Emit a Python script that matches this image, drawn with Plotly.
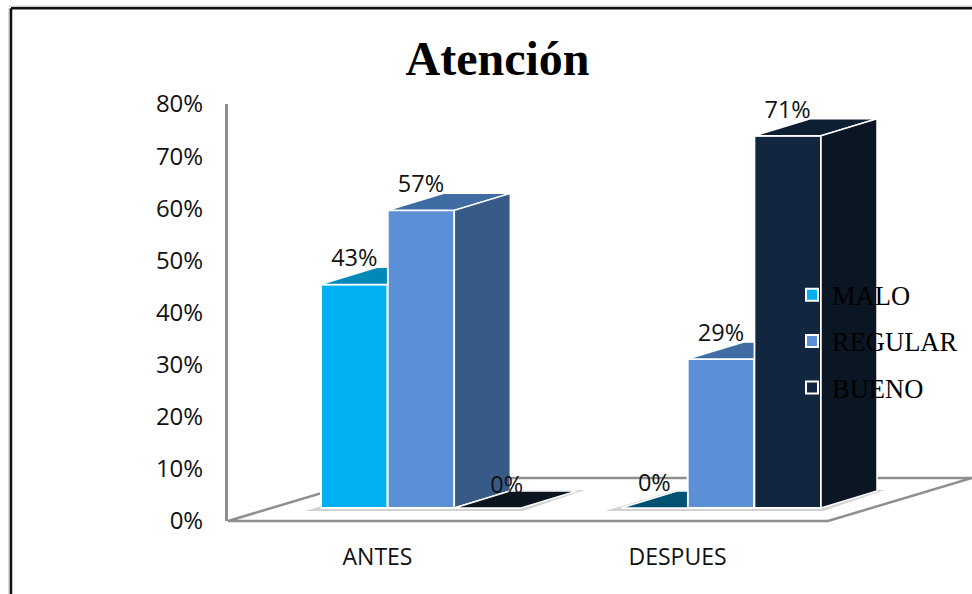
import plotly.graph_objects as go

# ---- data ----
categories = ["ANTES", "DESPUES"]
series_names = ["MALO", "REGULAR", "BUENO"]
malo = [42.9, 0.0]
regular = [57.1, 28.6]
bueno = [0.0, 71.4]
y_ticks = [0, 10, 20, 30, 40, 50, 60, 70, 80]
title_text = "Atención"

# ---- style ----
front_colors = ["#00B0F0", "#5B8FD6", "#12263F"]
top_colors = ["#0088B8", "#3F6CA3", "#0E1E33"]
side_colors = ["#0A6C93", "#375A87", "#0B1624"]
zero_top_colors = ["#005272", "#3F6CA3", "#0A1520"]
label_px_shift = {(2, 0): (19, -3), (0, 1): (0, -1)}
GRAY = "#8F8F8F"
W, H = 972, 594
LEFT, BOTTOM_PX, TOP_PX = 228, 521, 104.2
PX_PER_X = 300.0
PX_PER_Y = (BOTTOM_PX - TOP_PX) / 80.0
X_MIN = (LEFT - 421) / PX_PER_X
X_MAX = (W - 421) / PX_PER_X

px = lambda n: n / PX_PER_X
py = lambda n: n / PX_PER_Y
BAR_W = 2 / 9
BASE = py(13)
DX, DY = px(56), py(17)
FLOOR_DX, FLOOR_DY = px(144), py(43)
paper_x = lambda x: (x - X_MIN) / (X_MAX - X_MIN)
paper_y = lambda y: y / 80.0
paper_from_px_x = lambda p: (p - LEFT) / (W - LEFT)
paper_from_px_y = lambda p: (BOTTOM_PX - p) / (BOTTOM_PX - TOP_PX)


def poly(points, fill, line, width, layer="below"):
    d = "M " + " L ".join(f"{paper_x(a):.5f},{paper_y(b):.5f}" for a, b in points) + " Z"
    return dict(type="path", xref="paper", yref="paper", path=d, fillcolor=fill,
                line=dict(color=line, width=width), layer=layer)


fig = go.Figure()
values = [malo, regular, bueno]
xs = list(range(len(categories)))

# front faces: real bars, also feed the legend
for s, name in enumerate(series_names):
    fig.add_trace(go.Bar(
        x=xs, y=values[s], base=BASE, name=name, legendgroup=name,
        marker=dict(color=front_colors[s], line=dict(color="white", width=2)),
        hoverinfo="skip",
    ))

# top and side faces, derived from the values
for c in xs:
    for s in range(len(series_names)):
        v = values[s][c]
        xl = c + (s - 1.5) * BAR_W
        xr = xl + BAR_W
        top_y = BASE + v
        nxt = values[s + 1][c] if s + 1 < len(series_names) else -1
        hidden = nxt > v
        xclip = xr if hidden else xr + DX
        back_l = xl + DX
        if hidden:
            tx = [xl, min(back_l, xclip), xclip, xclip, xl]
            ty = [top_y, top_y + DY, top_y + DY, top_y, top_y]
        else:
            tx = [xl, back_l, xr + DX, xr, xl]
            ty = [top_y, top_y + DY, top_y + DY, top_y, top_y]
        fig.add_trace(go.Scatter(
            x=tx, y=ty, mode="lines", fill="toself",
            fillcolor=top_colors[s] if v > 0 else zero_top_colors[s],
            line=dict(color="white", width=1.5),
            showlegend=False, hoverinfo="skip", cliponaxis=False))
        if not hidden and v > 0:
            fig.add_trace(go.Scatter(
                x=[xr, xr + DX, xr + DX, xr, xr],
                y=[BASE, BASE + DY, top_y + DY, top_y, BASE],
                mode="lines", fill="toself", fillcolor=side_colors[s],
                line=dict(color="white", width=1.5),
                showlegend=False, hoverinfo="skip", cliponaxis=False))

# value labels
for s in range(len(series_names)):
    shifts = [label_px_shift.get((s, c), (0, 0)) for c in xs]
    lx = [c + (s - 1) * BAR_W + px(shifts[c][0]) for c in xs]
    ly = [BASE + values[s][c] + py(24 + shifts[c][1]) for c in xs]
    fig.add_trace(go.Scatter(
        x=lx, y=ly, mode="text", text=[f"{v:.0f}%" for v in values[s]],
        textposition="middle center",
        textfont=dict(family="Open Sans", size=23.5, color="#111111"),
        showlegend=False, hoverinfo="skip", cliponaxis=False))

# floor and base shadows
shapes = [poly([(X_MIN, 0), (X_MIN + len(xs), 0),
                (X_MIN + len(xs) + FLOOR_DX, FLOOR_DY), (X_MIN + FLOOR_DX, FLOOR_DY)],
               "white", GRAY, 2.5)]
for c in xs:
    xl = c - 1.5 * BAR_W
    xr = c + 1.5 * BAR_W
    shapes.append(poly([(xl - px(16), BASE - py(3)), (xr + px(2), BASE - py(3)),
                        (xr + DX + px(8), BASE + DY + py(1)), (xl + DX, BASE + DY + py(1))],
                       "#D2D2D2", "#D2D2D2", 0))

# outer chart frame
for col, off, wid in [("#CFCFCF", -2, 1.5), ("#111111", 0, 2.5)]:
    shapes.append(dict(type="line", xref="paper", yref="paper",
                       x0=paper_from_px_x(11 + off), x1=paper_from_px_x(11 + off),
                       y0=paper_from_px_y(8.5), y1=paper_from_px_y(600),
                       line=dict(color=col, width=wid), layer="below"))
    shapes.append(dict(type="line", xref="paper", yref="paper",
                       x0=paper_from_px_x(11 + off), x1=paper_from_px_x(980),
                       y0=paper_from_px_y(8.5 + off), y1=paper_from_px_y(8.5 + off),
                       line=dict(color=col, width=wid), layer="below"))

fig.update_layout(
    width=W, height=H,
    margin=dict(l=LEFT, r=0, t=TOP_PX, b=H - BOTTOM_PX, pad=0),
    paper_bgcolor="white", plot_bgcolor="rgba(0,0,0,0)",
    barmode="group", bargap=1 / 3, bargroupgap=0,
    title=dict(text=f"<b>{title_text}</b>", x=497.5 / W, xref="container", xanchor="center",
               y=1 - 58.5 / H, yref="container", yanchor="middle",
               font=dict(family="Liberation Serif", size=48, color="black")),
    xaxis=dict(range=[X_MIN, X_MAX], tickmode="array",
               tickvals=[c + px(-43.5) for c in xs], ticktext=categories,
               ticks="", showgrid=False, zeroline=False, showline=False,
               ticklabelstandoff=20, fixedrange=True,
               tickfont=dict(family="Open Sans", size=23, color="#111111")),
    yaxis=dict(range=[0, 80], tickmode="array", tickvals=y_ticks,
               ticktext=[f"{t}%" for t in y_ticks], ticks="", showgrid=False, zeroline=False,
               showline=True, linecolor=GRAY, linewidth=3, ticklabelstandoff=17, fixedrange=True,
               tickfont=dict(family="Open Sans", size=24, color="#111111")),
    legend=dict(x=paper_from_px_x(792), y=paper_from_px_y(341.5), xanchor="left", yanchor="middle",
                bgcolor="rgba(0,0,0,0)", traceorder="grouped", tracegroupgap=9,
                font=dict(family="Liberation Serif", size=26.5, color="black")),
    shapes=shapes,
)
fig.write_html("out.html", config=dict(displayModeBar=False),
               post_script="document.body.style.margin='0';")
